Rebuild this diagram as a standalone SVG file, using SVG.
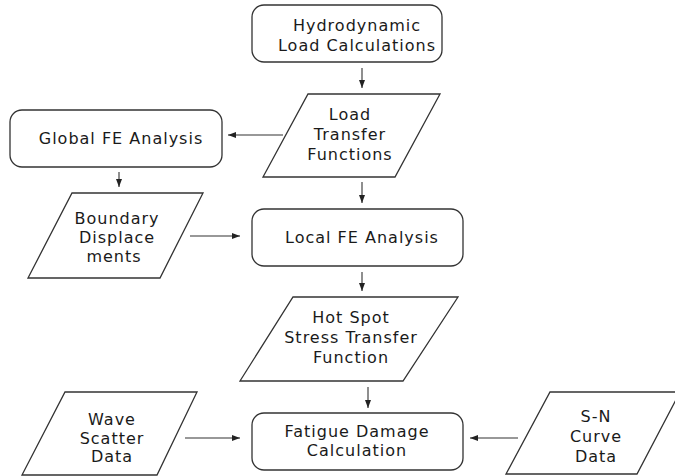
<svg xmlns="http://www.w3.org/2000/svg" width="675" height="476" viewBox="0 0 675 476">
<defs>
<style>
.box{fill:#fff;stroke:#333;stroke-width:1.3}
.t{font-family:"DejaVu Sans",sans-serif;font-size:16px;letter-spacing:1px;fill:#1a1a1a;text-anchor:middle}
.c{stroke:#333;stroke-width:1.1;fill:none;marker-end:url(#ah)}
</style>
<marker id="ah" viewBox="0 0 8 8" refX="8" refY="4" markerWidth="8" markerHeight="8" markerUnits="userSpaceOnUse" orient="auto">
<path d="M0,1 L8,4 L0,7 Z" fill="#222"/>
</marker>
</defs>
<rect width="675" height="476" fill="#fff"/>
<g id="connectors">
<line class="c" x1="362" y1="68" x2="362" y2="88"/>
<line class="c" x1="283" y1="135" x2="228" y2="135"/>
<line class="c" x1="119" y1="172" x2="119" y2="187"/>
<line class="c" x1="362" y1="182" x2="362" y2="203"/>
<line class="c" x1="190" y1="236" x2="240" y2="236"/>
<line class="c" x1="362" y1="272" x2="362" y2="291"/>
<line class="c" x1="368" y1="387" x2="368" y2="408"/>
<line class="c" x1="185" y1="438" x2="240" y2="438"/>
<line class="c" x1="518" y1="438" x2="470" y2="438"/>
</g>
<g id="hydro">
<rect class="box" x="252" y="5" width="190" height="57" rx="12"/>
<text class="t" x="357" y="31">Hydrodynamic</text>
<text class="t" x="357" y="51">Load Calculations</text>
</g>
<g id="loadtf">
<polygon class="box" points="308,94 440,94 395,177 263,177"/>
<text class="t" x="350" y="120">Load</text>
<text class="t" x="350" y="140">Transfer</text>
<text class="t" x="350" y="160">Functions</text>
</g>
<g id="global">
<rect class="box" x="10" y="110" width="212" height="57" rx="12"/>
<text class="t" x="121" y="144">Global FE Analysis</text>
</g>
<g id="boundary">
<polygon class="box" points="72,193 203,193 160,278 28,278"/>
<text class="t" x="117" y="224">Boundary</text>
<text class="t" x="117" y="243">Displace</text>
<text class="t" x="114" y="262">ments</text>
</g>
<g id="local">
<rect class="box" x="252" y="209" width="211" height="57" rx="12"/>
<text class="t" x="362" y="243">Local FE Analysis</text>
</g>
<g id="hotspot">
<polygon class="box" points="293,297 458,297 403,381 240,381"/>
<text class="t" x="351" y="323">Hot Spot</text>
<text class="t" x="351" y="343">Stress Transfer</text>
<text class="t" x="351" y="363">Function</text>
</g>
<g id="wave">
<polygon class="box" points="65,392 197,392 157,475 22,475"/>
<text class="t" x="112" y="425">Wave</text>
<text class="t" x="112" y="444">Scatter</text>
<text class="t" x="112" y="462">Data</text>
</g>
<g id="fatigue">
<rect class="box" x="252" y="413" width="211" height="57" rx="12"/>
<text class="t" x="357" y="437">Fatigue Damage</text>
<text class="t" x="357" y="456">Calculation</text>
</g>
<g id="sn">
<polygon class="box" points="550,392 680,392 637,474 506,474"/>
<text class="t" x="596" y="422">S-N</text>
<text class="t" x="596" y="442">Curve</text>
<text class="t" x="596" y="462">Data</text>
</g>
</svg>
